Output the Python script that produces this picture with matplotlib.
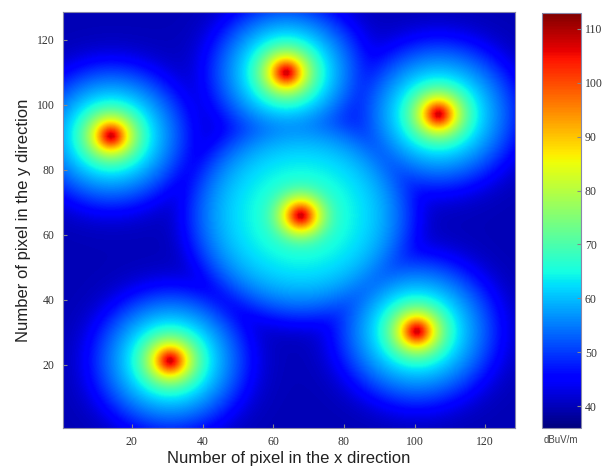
import numpy as np
import matplotlib
matplotlib.use("Agg")
import matplotlib.pyplot as plt

# source positions (pixel units) and field parameters
src_x = [14.1, 63.6, 106.6, 67.7, 30.8, 100.5]
src_y = [90.2, 109.6, 96.8, 65.7, 21.2, 30.2]
src_peak = [108, 108, 108, 108, 108, 108]      # dBuV/m at the source
halo_level = [64, 64, 64, 65.5, 64, 64]        # halo plateau, dBuV/m
halo_width = [10.5, 10.5, 11, 19.5, 10.5, 11]  # halo radius, pixels
halo_shape = [2, 2, 2, 3, 2, 2]
floor_level = 39.5

x_ticks = [20, 40, 60, 80, 100, 120]
y_ticks = [20, 40, 60, 80, 100, 120]
cb_ticks = [40, 50, 60, 70, 80, 90, 100, 110]
vmin, vmax = 36, 113

n = 128
gx, gy = np.meshgrid(np.arange(1, n + 1), np.arange(1, n + 1))
power = np.full(gx.shape, 10 ** (floor_level / 10))
for sx, sy, pk, hl, hw, hp in zip(src_x, src_y, src_peak, halo_level, halo_width, halo_shape):
    r2 = (gx - sx) ** 2 + (gy - sy) ** 2
    power += 10 ** (pk / 10) * (1 + r2 / 6.25) ** (-3.5)
    power += 10 ** (hl / 10) * np.exp(-(np.sqrt(r2) / hw) ** hp)
field = 10 * np.log10(power)

fig = plt.figure(figsize=(6.07, 4.75), dpi=100)
ax = fig.add_axes([0.1038, 0.0989, 0.745, 0.8758])
cax = fig.add_axes([0.8924, 0.0995, 0.0643, 0.874])

im = ax.imshow(field, cmap="jet", origin="lower", vmin=vmin, vmax=vmax,
               extent=(0.5, n + 0.5, 0.5, n + 0.5), aspect="auto",
               interpolation="bilinear")
ax.set_xticks(x_ticks)
ax.set_yticks(y_ticks)
for lab in ax.get_xticklabels() + ax.get_yticklabels():
    lab.set_fontfamily("Liberation Serif")
    lab.set_fontsize(8.5)
ax.tick_params(direction="in", length=3, color="#888888", labelcolor="#333333", pad=6)
for s in ax.spines.values():
    s.set_color("#8888aa")
    s.set_linewidth(0.8)
ax.set_xlabel("Number of pixel in the x direction", family="Liberation Sans",
              fontsize=12, color="#222222", labelpad=2)
ax.set_ylabel("Number of pixel in the y direction", family="Liberation Sans",
              fontsize=12, color="#222222", labelpad=4)

cb = fig.colorbar(im, cax=cax, ticks=cb_ticks)
cb.outline.set_edgecolor("#8888aa")
cb.outline.set_linewidth(0.8)
cax.tick_params(direction="in", length=3, color="#888888", labelcolor="#333333", pad=3)
for lab in cax.get_yticklabels():
    lab.set_fontfamily("Liberation Serif")
    lab.set_fontsize(8.5)
cax.set_xlabel("dBuV/m", family="Liberation Sans", fontsize=7, color="#444444", labelpad=5)

fig.savefig("out.png", dpi=100)
